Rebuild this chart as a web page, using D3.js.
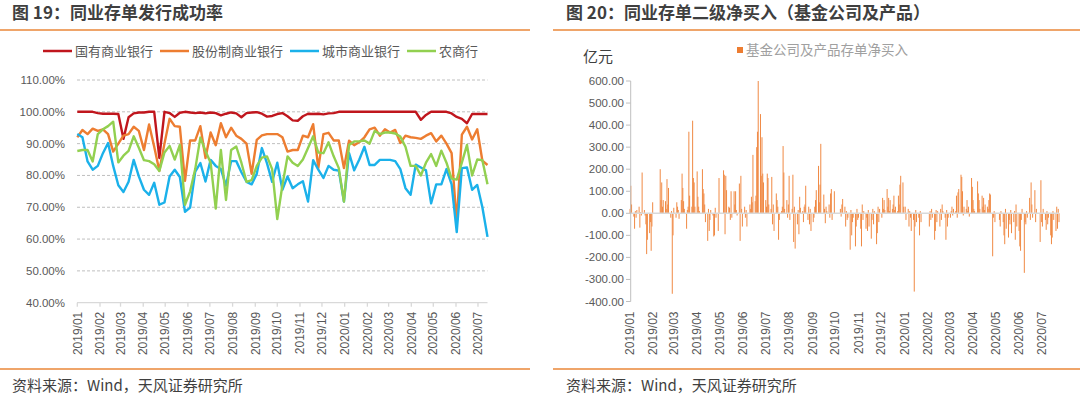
<!DOCTYPE html>
<html><head><meta charset="utf-8">
<script src="https://cdn.jsdelivr.net/npm/d3@7"></script>
<style>
body{margin:0;background:#fff;}
svg{display:block;font-family:"Noto Sans CJK SC","Noto Sans",sans-serif;}
</style></head><body>
<svg id="c" width="1080" height="395"></svg>
<script>
// ---------------- DATA ----------------
const leftTitle = "图 19：同业存单发行成功率";
const rightTitle = "图 20：同业存单二级净买入（基金公司及产品）";
const sourceText = "资料来源：Wind，天风证券研究所";
const seriesNames = ["国有商业银行","股份制商业银行","城市商业银行","农商行"];
const firstWeek = "2019-01-01";
const stateBanks = [100,100,100,100,99.6,99.4,99.4,99.4,99.3,91.5,
 98.3,99.5,99.8,99.8,100,100,85.5,100,99.6,98.4,
 99.7,100,99.8,99.6,99.8,99.5,99.8,99.6,98.9,99.4,
 99.8,99.5,98.3,99.6,99.8,99.9,99.4,98.5,98.7,99.3,
 99.6,98.6,97.3,97.2,98.6,99.4,99.3,99.4,99.2,99.5,
 99.6,100,100,100,100,100,100,100,100,100,
 100,100,100,100,100,100,100,97.5,99,100,
 100,100,100,99.5,98.4,97.8,96.4,99.3,99.3,99.3,99.3];
const jointStockBanks = [92,94.3,93,94.7,94,94.5,93,87.5,90,92.5,
 93,95.3,94,88,96,89,81.5,90,97.8,95.5,
 95.3,78.3,91,91,95.5,85.5,93.5,89.5,96.4,92,
 95,92.5,91.5,90,80.5,91.2,92.6,93,93,93,
 92,87.5,88,88,92.5,92,96.1,82.3,93,93.4,
 91,91,82.3,90.9,89.5,90.5,92,94.5,95,92.5,
 94.5,93.5,94.3,90.2,92.5,92,91.8,91.5,92.5,93.3,
 90.7,92.5,90,87,65,92.8,95.3,91.3,94.5,84.6,83.3];
const cityBanks = [93,92,84.4,81.8,83,87,90.2,83,76.9,74.8,
 78,84.9,79.7,75.5,73.9,77.7,70.8,71.5,79.7,81.8,
 79.5,68.6,69.9,81.2,83.9,78.1,84.9,83,82,76.8,
 84.5,84.5,81,78,77.2,80.5,88.6,83.8,78,84,
 75.5,79.7,76,77.2,78.2,71.8,84.8,81.8,79.2,83,
 81.8,81.5,71.8,87,81.6,85,89,83.3,83.3,84.9,
 84.9,84.9,84.5,82,76,73.9,83.4,82.5,81.6,71.2,
 77.2,77.2,82,77.2,62.2,82.3,82.5,75.5,77,70,60.7];
const ruralBanks = [87.7,88,88,84.4,93,94.5,95.5,96.9,84.1,86.2,
 87.7,92.3,88.7,84.8,84.5,83.5,81.4,87.2,89.3,85,
 89.6,70.8,75,82,91.9,87.7,84,69.6,88,72.3,
 88,89.1,84,78,78.5,83,85.6,86,82,66.3,
 76.9,86,84,83,85,88.6,92.3,87.2,87,90.4,
 86,82.3,71.8,89.6,90.7,90.7,91,90,94,93,
 93.5,93.5,93.2,92.2,89,83,83,80,84,86.7,
 83,87.8,84,79,78.7,84,89.6,80,85,84.8,77.2];
const leftYTicks = [40,50,60,70,80,90,100,110];
const rightYTicks = [-400,-300,-200,-100,0,100,200,300,400,500,600];
const rightUnit = "亿元";
const rightLegend = "基金公司及产品存单净买入";
const holidays = ["2019-01-01","2019-02-04","2019-02-05","2019-02-06","2019-02-07","2019-02-08",
 "2019-04-05","2019-05-01","2019-05-02","2019-05-03","2019-06-07","2019-09-13",
 "2019-10-01","2019-10-02","2019-10-03","2019-10-04","2019-10-07",
 "2020-01-01","2020-01-24","2020-01-27","2020-01-28","2020-01-29","2020-01-30","2020-01-31",
 "2020-04-06","2020-05-01","2020-05-04","2020-05-05","2020-06-25","2020-06-26"];
// fund net purchases of NCDs, 亿元, one value per trading day of each month
const buy2019_01 = [20,125,40,-15,-70,10,-20,15,30,-65,5,-10,185,15,-10,-50,-185,-120,-90,-40,-170,-60];
const buy2019_02 = [50,200,60,140,30,60,55,20,155,40,115,-20,10,-365,-100];
const buy2019_03 = [25,-20,50,30,15,-25,60,180,115,55,20,-70,15,30,370,80,30,420,160,140,30];
const buy2019_04 = [190,75,30,10,200,110,90,40,-40,-125,20,-80,-30,15,-10,-105,-100,25,-20,-80,160];
const buy2019_05 = [195,175,-95,170,105,30,25,-30,100,-20,100,40,100,15,-10,135,-125,170,20,-60];
const buy2019_06 = [30,-20,15,-60,40,20,75,50,265,55,80,300,370,600,450,170,345,180,140];
const buy2019_07 = [60,30,180,160,40,20,165,-50,40,-80,90,60,30,-120,-30,10,30,305,185,20,60,-20,40];
const buy2019_08 = [170,-30,20,175,-130,30,-160,-50,15,-95,75,25,10,-40,30,40,125,-30,30,-50,20,-80];
const buy2019_09 = [-40,-20,30,60,105,215,50,130,315,85,20,-45,30,10,40,-20,90,110,-30,100];
const buy2019_10 = [20,-15,40,65,30,-60,10,-30,-20,-165,15,-100,-40,-20,-150,-60,20,-30];
const buy2019_11 = [-20,-70,-150,40,-30,10,-70,-20,-80,15,-60,-115,-30,20,-50,10,-140,-90,30,-40,20];
const buy2019_12 = [-20,70,20,60,15,110,30,70,10,60,20,40,80,15,30,10,80,40,130,170,140,30];
const buy2020_01 = [30,-30,20,-60,10,-20,-80,-30,-355,-60,15,-40,-20,-100,10,-40];
const buy2020_02 = [-60,10,-30,20,-20,-120,-80,15,-40,10,-60,20,-30,40,10,-20,-120,15,-60,-20];
const buy2020_03 = [-20,10,30,-10,20,10,80,-20,95,110,175,165,100,-10,30,20,60,10,30,-15,160,120];
const buy2020_04 = [60,20,10,145,90,60,20,80,30,70,15,40,30,20,60,90,85,-195,-20,10,-40];
const buy2020_05 = [-30,-60,10,-40,-100,-140,20,-70,-110,-30,-50,15,-90,-40,10,-120,40,-60];
const buy2020_06 = [-80,-150,-170,-30,20,-270,-40,-50,10,-20,70,-30,140,40,-20,105,-40,20,-130,150];
const buy2020_07 = [-40,-60,20,-30,-75,10,-50,-20,-100,-140,-110,10,-30,-80,30,-70,20,-40];

// ---------------- BUILD ----------------
const monthly = {"2019-01":buy2019_01,"2019-02":buy2019_02,"2019-03":buy2019_03,"2019-04":buy2019_04,
 "2019-05":buy2019_05,"2019-06":buy2019_06,"2019-07":buy2019_07,"2019-08":buy2019_08,"2019-09":buy2019_09,
 "2019-10":buy2019_10,"2019-11":buy2019_11,"2019-12":buy2019_12,"2020-01":buy2020_01,"2020-02":buy2020_02,
 "2020-03":buy2020_03,"2020-04":buy2020_04,"2020-05":buy2020_05,"2020-06":buy2020_06,"2020-07":buy2020_07};
const fmtDay = d3.utcFormat("%Y-%m-%d"), fmtMonth = d3.utcFormat("%Y-%m");
const hol = new Set(holidays);
const tradingDays = d3.utcDay.range(new Date(Date.UTC(2019,0,1)), new Date(Date.UTC(2020,6,25)))
  .filter(d => d.getUTCDay()!==0 && d.getUTCDay()!==6 && !hol.has(fmtDay(d)));
const byMonth = d3.group(tradingDays, fmtMonth);
const bars = [];
for (const [m, days] of byMonth) {
  const vals = monthly[m] || [];
  days.forEach((d,i) => { if (i < vals.length) bars.push({date:d, value:vals[i]}); });
}
const start = new Date(Date.UTC(2019,0,1));
const weekDates = stateBanks.map((_,i) => d3.utcDay.offset(new Date(firstWeek+"T00:00:00Z"), i*7));
const leftSeries = [
  {name:seriesNames[0], values:stateBanks, color:"#C0161D"},
  {name:seriesNames[1], values:jointStockBanks, color:"#ED7D31"},
  {name:seriesNames[2], values:cityBanks, color:"#1BB1EA"},
  {name:seriesNames[3], values:ruralBanks, color:"#92D050"}
];

const svg = d3.select("#c");
const sepColor = "#EFA56A";
const txtDark = "#3F3F3F", txtAxis = "#595959";
const numFont = "'Liberation Sans',Arial,sans-serif";

// titles and separators
svg.append("text").attr("x",12).attr("y",18.5).attr("font-size",17).attr("font-weight","bold")
  .attr("fill",txtDark).text(leftTitle);
svg.append("text").attr("x",566).attr("y",18.5).attr("font-size",17).attr("font-weight","bold")
  .attr("fill",txtDark).text(rightTitle);
[[0,530],[553,1080]].forEach(([a,b]) => {
  svg.append("line").attr("x1",a).attr("x2",b).attr("y1",30).attr("y2",30).attr("stroke",sepColor).attr("stroke-width",2);
  svg.append("line").attr("x1",a).attr("x2",b).attr("y1",369).attr("y2",369).attr("stroke",sepColor).attr("stroke-width",2);
});
svg.append("text").attr("x",12).attr("y",391).attr("font-size",15).attr("fill",txtDark).text(sourceText);
svg.append("text").attr("x",566).attr("y",391).attr("font-size",15).attr("fill",txtDark).text(sourceText);

// ---------------- LEFT CHART ----------------
const xL = d3.scaleUtc().domain([start, weekDates[weekDates.length-1]]).range([77.3, 487.5]);
const yL = d3.scaleLinear().domain([40,110]).range([302.7, 80]);
const monthTicks = d3.utcMonth.range(start, new Date(Date.UTC(2020,6,2)));
const fmtTick = d3.utcFormat("%Y/%m");

const gL = svg.append("g");
gL.selectAll("line.grid").data(leftYTicks.filter(t=>t>40)).join("line")
  .attr("x1",77).attr("x2",487.5).attr("y1",d=>yL(d)).attr("y2",d=>yL(d))
  .attr("stroke","#BFBFBF").attr("stroke-width",1).attr("stroke-dasharray","3,2");
gL.selectAll("text.yl").data(leftYTicks).join("text")
  .attr("x",65).attr("y",d=>yL(d)).attr("dy","0.35em").attr("text-anchor","end")
  .attr("font-size",11.5).attr("font-family",numFont).attr("fill",txtAxis)
  .text(d=>d3.format(".2f")(d)+"%");
gL.append("line").attr("x1",77).attr("x2",487.5).attr("y1",yL(40)).attr("y2",yL(40))
  .attr("stroke","#D9D9D9").attr("stroke-width",1.3);
gL.selectAll("line.tk").data(monthTicks).join("line")
  .attr("x1",d=>xL(d)).attr("x2",d=>xL(d)).attr("y1",yL(40)).attr("y2",yL(40)+4)
  .attr("stroke","#D9D9D9").attr("stroke-width",1.3);
gL.selectAll("text.xl").data(monthTicks).join("text")
  .attr("transform",d=>`translate(${xL(d)},${yL(40)+9}) rotate(-90)`)
  .attr("text-anchor","end").attr("dy","0.35em").attr("font-size",12).attr("font-family",numFont)
  .attr("fill",txtAxis).text(d=>fmtTick(d));
const line = d3.line().x((d,i)=>xL(weekDates[i])).y(d=>yL(d));
leftSeries.forEach(s => {
  gL.append("path").attr("d",line(s.values)).attr("fill","none").attr("stroke",s.color)
    .attr("stroke-width",2.4).attr("stroke-linejoin","round");
});
// legend
const legX = [43,160,290,407];
leftSeries.forEach((s,i) => {
  gL.append("line").attr("x1",legX[i]).attr("x2",legX[i]+29).attr("y1",51).attr("y2",51)
    .attr("stroke",s.color).attr("stroke-width",2.5);
  gL.append("text").attr("x",legX[i]+32).attr("y",51).attr("dy","0.35em").attr("font-size",13)
    .attr("fill",txtAxis).text(s.name);
});

// ---------------- RIGHT CHART ----------------
const xR = d3.scaleUtc().domain([start, new Date(Date.UTC(2020,6,24))]).range([629.3, 1059]);
const yR = d3.scaleLinear().domain([-400,600]).range([301.5, 81]);
const gR = svg.append("g");
gR.selectAll("rect").data(bars).join("rect")
  .attr("x",d=>xR(d.date)-0.5).attr("width",1)
  .attr("y",d=>Math.min(yR(d.value),yR(0))).attr("height",d=>Math.abs(yR(d.value)-yR(0)))
  .attr("fill","#F08A45");
gR.append("line").attr("x1",630.7).attr("x2",1059).attr("y1",yR(0)).attr("y2",yR(0))
  .attr("stroke","#D9D9D9").attr("stroke-width",1.5);
gR.append("line").attr("x1",630.7).attr("x2",630.7).attr("y1",yR(600)).attr("y2",yR(-400))
  .attr("stroke","#BFBFBF").attr("stroke-width",1);
gR.selectAll("line.tk").data(rightYTicks).join("line")
  .attr("x1",626).attr("x2",630.7).attr("y1",d=>yR(d)).attr("y2",d=>yR(d))
  .attr("stroke","#BFBFBF").attr("stroke-width",1);
gR.selectAll("text.yl").data(rightYTicks).join("text")
  .attr("x",624).attr("y",d=>yR(d)).attr("dy","0.35em").attr("text-anchor","end")
  .attr("font-size",11.5).attr("font-family",numFont).attr("fill",txtAxis)
  .text(d=>d3.format(".2f")(d).replace("−","-"));
gR.selectAll("text.xl").data(monthTicks).join("text")
  .attr("transform",d=>`translate(${xR(d)},${yR(-400)+10}) rotate(-90)`)
  .attr("text-anchor","end").attr("dy","0.35em").attr("font-size",12).attr("font-family",numFont)
  .attr("fill",txtAxis).text(d=>fmtTick(d));
gR.append("text").attr("x",583).attr("y",57).attr("dy","0.35em").attr("font-size",15)
  .attr("fill",txtDark).text(rightUnit);
gR.append("rect").attr("x",737).attr("y",47).attr("width",6).attr("height",6).attr("fill","#ED7D31");
gR.append("text").attr("x",746).attr("y",50).attr("dy","0.35em").attr("font-size",13.5)
  .attr("fill","#A0A0A0").text(rightLegend);
</script>
</body></html>
